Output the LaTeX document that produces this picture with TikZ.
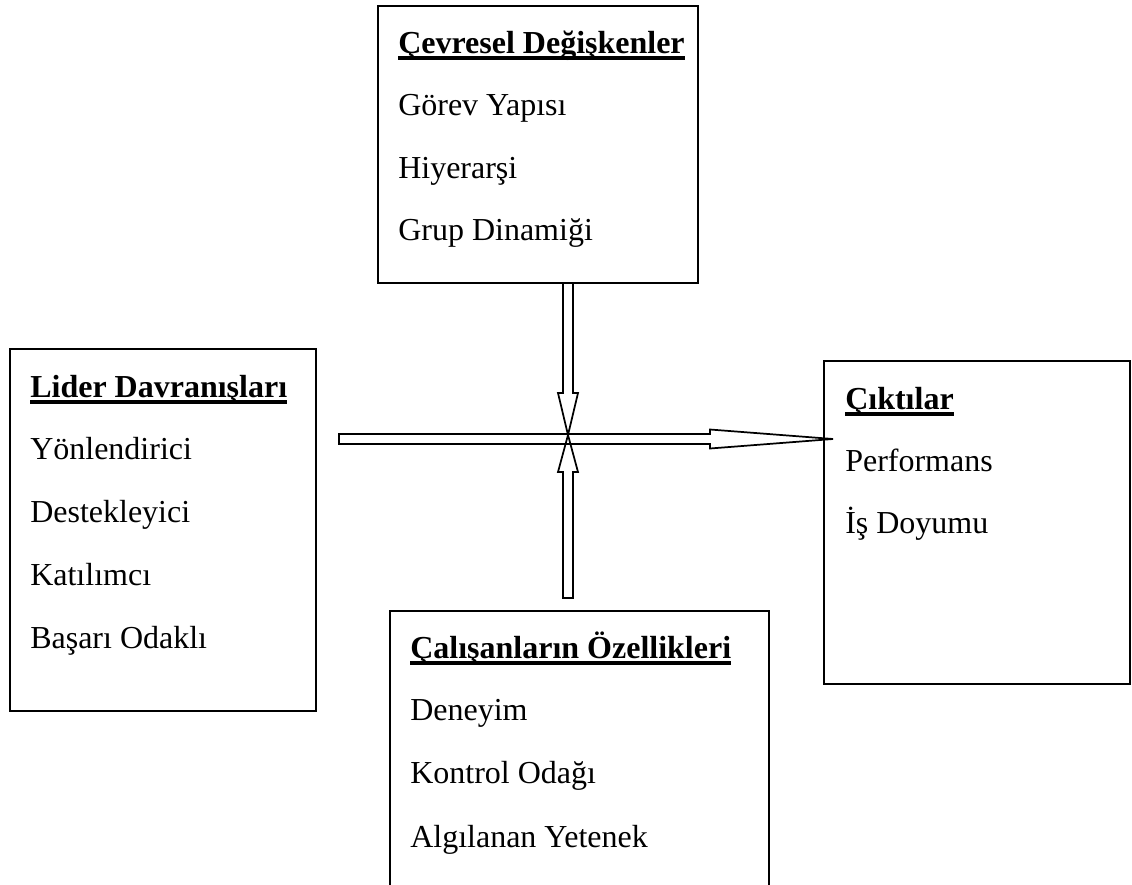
\documentclass[tikz,border=0pt]{standalone}
\usepackage{fontspec}
\setmainfont{Liberation Serif}
\usetikzlibrary{calc}

\tikzset{
  box/.style={draw, line width=1.5pt, rectangle, inner sep=0pt, anchor=north west},
  label/.style={inner sep=0pt, anchor=base west, font=\fontsize{24}{28}\selectfont},
  head/.style={label, font=\fontsize{24}{28}\selectfont\bfseries},
  uline/.style={line width=2.3pt},
  blk/.style={draw, line width=1.3pt, line join=miter},
}

\begin{document}
\begin{tikzpicture}[x=0.75pt, y=-0.75pt]
  \useasboundingbox (0,0) rectangle (1132,885);
  \clip (0,0) rectangle (1132,885);

  % boxes
  \node[box, minimum width=240pt,    minimum height=207.75pt] (env)  at (377,5)   {};
  \node[box, minimum width=229.5pt,  minimum height=271.5pt]  (lead) at (9,348)   {};
  \node[box, minimum width=229.5pt,  minimum height=242.25pt] (out)  at (823,360) {};
  \node[box, minimum width=284.25pt, minimum height=240pt]    (emp)  at (389,610) {};

  % environmental variables
  \node[head]  (envT) at (398,53)    {Çevresel Değişkenler};
  \node[label] (env1) at (398,115.5) {Görev Yapısı};
  \node[label] (env2) at (398,178)   {Hiyerarşi};
  \node[label] (env3) at (398,240.5) {Grup Dinamiği};

  % leader behaviours
  \node[head]  (leadT) at (30,397) {Lider Davranışları};
  \node[label] (lead1) at (30,459) {Yönlendirici};
  \node[label] (lead2) at (30,522) {Destekleyici};
  \node[label] (lead3) at (30,585) {Katılımcı};
  \node[label] (lead4) at (30,648) {Başarı Odaklı};

  % outcomes
  \node[head]  (outT) at (845,409) {Çıktılar};
  \node[label] (out1) at (845,471) {Performans};
  \node[label] (out2) at (845,533) {İş Doyumu};

  % employee characteristics
  \node[head]  (empT) at (410,658) {Çalışanların Özellikleri};
  \node[label] (emp1) at (410,720) {Deneyim};
  \node[label] (emp2) at (410,783) {Kontrol Odağı};
  \node[label] (emp3) at (410,847) {Algılanan Yetenek};

  % underlined headings
  \foreach \h in {envT, leadT, outT, empT}
    \draw[uline] ($(\h.base west)+(0,5)$) -- ($(\h.base east)+(0,5)$);

  % meeting point of the arrows
  \coordinate (hub)  at (568,435);
  \coordinate (tail) at ($(lead.east |- hub)+(22,4)$);
  \coordinate (tip)  at ($(out.west |- tail)+(10,0)$);
  \coordinate (top)  at (env.south -| hub);
  \coordinate (bot)  at ($(emp.north -| hub)+(0,-12)$);

  % leader behaviours -> outcomes
  \draw[blk] ($(tail)+(0,-5)$) -- ($(tip)+(-123,-5)$) -- ($(tip)+(-123,-9.5)$)
    -- (tip) -- ($(tip)+(-123,9.5)$) -- ($(tip)+(-123,5)$) -- ($(tail)+(0,5)$) -- cycle;

  % environmental variables -> centre
  \draw[blk] ($(top)+(-5,0)$) -- ($(hub)+(-5,-42)$) -- ($(hub)+(-10,-42)$)
    -- (hub) -- ($(hub)+(10,-42)$) -- ($(hub)+(5,-42)$) -- ($(top)+(5,0)$);

  % employee characteristics -> centre
  \draw[blk] ($(bot)+(-5,0)$) -- ($(hub)+(-5,37)$) -- ($(hub)+(-10,37)$)
    -- (hub) -- ($(hub)+(10,37)$) -- ($(hub)+(5,37)$) -- ($(bot)+(5,0)$) -- cycle;
\end{tikzpicture}
\end{document}
